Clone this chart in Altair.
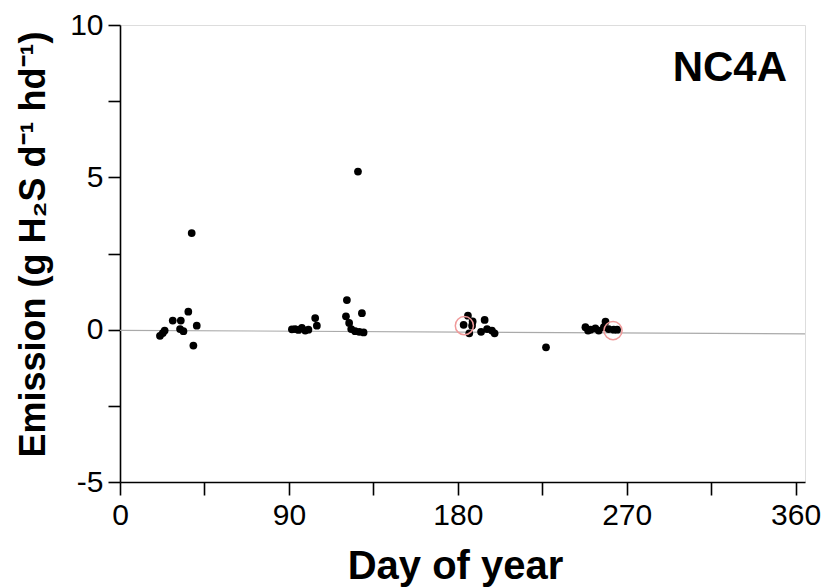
import altair as alt
import pandas as pd

# Measured emissions (g H2S d-1 hd-1) by day of year
day = [21.3, 22.8, 23.8, 28.1, 32.4, 32.0, 33.8, 36.4, 38.2, 39.1, 40.9,
       91.6, 93.3, 95.1, 96.9, 98.7, 100.4, 104.0, 104.9,
       120.4, 120.9, 122.1, 123.2, 125.3, 126.8, 127.5, 128.9, 129.8,
       183.1, 185.4, 186.1, 187.6, 187.9, 192.4, 194.3, 195.6, 198.2, 199.6,
       227.0,
       248.0, 249.4, 250.7, 253.3, 255.1, 257.8, 258.7, 260.4, 263.1, 264.9]
emission = [-0.20, -0.11, -0.03, 0.30, 0.30, 0.02, -0.05, 0.59, 3.17, -0.52, 0.13,
            0.01, 0.02, -0.01, 0.06, -0.03, 0.00, 0.38, 0.13,
            0.44, 0.97, 0.22, 0.02, -0.05, 5.19, -0.07, 0.54, -0.09,
            0.16, 0.46, -0.12, 0.13, 0.27, -0.07, 0.32, 0.02, -0.03, -0.12,
            -0.58,
            0.08, -0.03, 0.00, 0.04, -0.03, 0.08, 0.26, 0.02, 0.00, 0.00]

# Highlighted (circled) observations
circle_day = [183.5, 262.7]
circle_val = [0.13, -0.03]

# Fitted trend line end points
trend_day = [0, 365]
trend_val = [-0.02, -0.14]

panel_label = ["NC4A"]

y_ticks = [-5, -2.5, 0, 2.5, 5, 7.5, 10]
x_ticks = [0, 45, 90, 135, 180, 225, 270, 315, 360]

FONT = "Liberation Sans"

pts = pd.DataFrame({"day": day, "emission": emission})
circ = pd.DataFrame({"day": circle_day, "emission": circle_val})
trend = pd.DataFrame({"day": trend_day, "emission": trend_val})
lab = pd.DataFrame({"label": panel_label})

xscale = alt.Scale(domain=[0, 365], nice=False, zero=False)
yscale = alt.Scale(domain=[-5, 10], nice=False, zero=False)

xaxis = alt.Axis(
    values=x_ticks,
    labelExpr="datum.value % 90 == 0 ? toString(datum.value) : ''",
    title="Day of year",
    grid=False,
    labelFlush=False,
    labelOverlap=False,
    tickSize=13,
    labelPadding=5,
    domainColor="black", tickColor="black", domainWidth=1.6, tickWidth=1.6,
    labelFontSize=30, labelColor="black", labelFont=FONT,
    titleFontSize=40, titleFontWeight="bold", titleFont=FONT, titleColor="black",
    titleX=335, titleY=96, titleAlign="center", titleBaseline="alphabetic",
)
yaxis = alt.Axis(
    values=y_ticks,
    labelExpr="datum.value % 5 == 0 ? toString(datum.value) : ''",
    title="Emission (g H\u2082S d\u207b\u00b9 hd\u207b\u00b9)",
    grid=False,
    labelFlush=False,
    labelOverlap=False,
    tickSize=12,
    labelPadding=5,
    domainColor="black", tickColor="black", domainWidth=1.6, tickWidth=1.6,
    labelFontSize=30, labelColor="black", labelFont=FONT,
    titleFontSize=36, titleFontWeight="bold", titleFont=FONT, titleColor="black",
    titleX=-87, titleY=219, titleAlign="center", titleBaseline="middle", titleAngle=-90,
)

line = alt.Chart(trend).mark_line(color="#aaaaaa", strokeWidth=1.2).encode(
    x=alt.X("day:Q", scale=xscale, axis=xaxis),
    y=alt.Y("emission:Q", scale=yscale, axis=yaxis),
)
dots = alt.Chart(pts).mark_point(filled=True, color="black", opacity=1, size=60).encode(
    x=alt.X("day:Q", scale=xscale),
    y=alt.Y("emission:Q", scale=yscale),
)
rings = alt.Chart(circ).mark_point(filled=False, color="#f09a9a", strokeWidth=1.5, size=330, opacity=1).encode(
    x=alt.X("day:Q", scale=xscale),
    y=alt.Y("emission:Q", scale=yscale),
)
title_txt = alt.Chart(lab).mark_text(
    font=FONT, fontSize=42, fontWeight="bold", color="black",
    align="right", baseline="alphabetic",
).encode(
    text="label:N",
    x=alt.value(667),
    y=alt.value(56),
)

chart = alt.layer(line, dots, rings, title_txt).properties(
    width=685,
    height=457,
    autosize=alt.AutoSizeParams(type="none"),
    padding={"left": 120, "top": 25, "right": 18, "bottom": 105},
).configure_view(stroke=None).configure(background="white")

chart.save("out.html", embed_options={"renderer": "svg", "actions": False})
